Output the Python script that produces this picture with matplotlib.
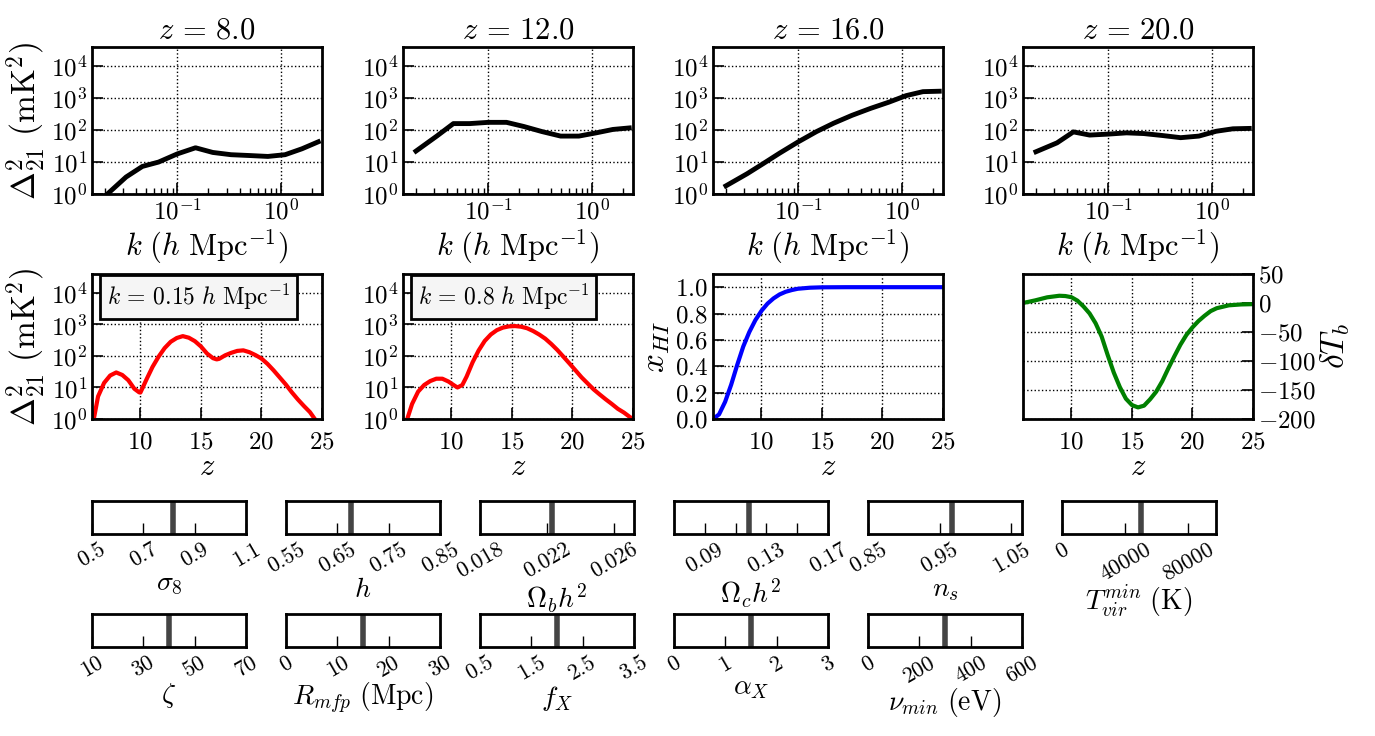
import matplotlib
matplotlib.use("Agg")
import matplotlib.pyplot as plt

plt.rcParams["font.family"] = "serif"
plt.rcParams["font.serif"] = ["cmr10"]
plt.rcParams["mathtext.fontset"] = "cm"
plt.rcParams["axes.formatter.use_mathtext"] = True
plt.rcParams["axes.unicode_minus"] = True

# ---------------- datos ----------------
redshifts = [8.0, 12.0, 16.0, 20.0]
k_bins = [0.02, 0.032, 0.046, 0.066, 0.10, 0.15, 0.22, 0.33, 0.50, 0.75, 1.1, 1.6, 2.3]
ps_z8 = [0.85, 3.4, 7.3, 10, 18, 28, 20, 17, 16, 15, 17, 26, 43]
ps_z12 = [22, 66, 160, 160, 175, 175, 130, 90, 65, 65, 82, 105, 117]
ps_z16 = [1.8, 4.3, 9, 19, 43, 90, 165, 290, 480, 750, 1200, 1600, 1650]
ps_z20 = [21, 40, 88, 70, 75, 82, 78, 68, 58, 65, 92, 110, 113]
ps_top = [ps_z8, ps_z12, ps_z16, ps_z20]

z_k015 = [6.15, 6.5, 7.0, 7.5, 8.0, 8.5, 9.0, 9.5, 9.9, 10.0, 10.5, 11.0, 11.5, 12.0,
          12.5, 13.0, 13.5, 14.0, 14.5, 15.0, 15.5, 16.0, 16.3, 16.5, 17.0, 17.5, 18.0,
          18.5, 19.0, 19.5, 20.0, 20.5, 21.0, 21.5, 22.0, 22.5, 23.0, 23.5, 24.0, 24.5]
ps_k015 = [1.0, 5.2, 14, 24, 30, 25, 17, 9.1, 7.0, 6.9, 18, 45, 95, 178,
           282, 372, 427, 380, 295, 200, 120, 85, 78, 81, 105, 126, 145,
           151, 132, 107, 83, 56, 35, 21, 12.6, 7.1, 4.2, 2.6, 1.66, 0.89]

z_k08 = [6.35, 6.75, 7.25, 7.75, 8.25, 8.75, 9.25, 9.75, 10.25, 10.5, 10.9, 11.25, 11.75,
         12.25, 12.75, 13.25, 13.75, 14.25, 14.75, 15.25, 15.75, 16.25, 16.75, 17.25,
         17.75, 18.25, 18.75, 19.25, 19.75, 20.25, 20.75, 21.25, 21.75, 22.25, 22.75,
         23.25, 23.75, 24.25, 24.75, 25.0]
ps_k08 = [1.0, 3.0, 7.4, 12, 16, 19, 19, 15.5, 11.5, 10, 12, 22, 63,
          150, 300, 480, 660, 795, 870, 890, 850, 760, 620, 480,
          355, 240, 155, 95, 58, 35, 21, 13.5, 8.7, 6.0, 4.2,
          3.0, 2.1, 1.6, 1.15, 1.0]

z_xhi = [6.0, 6.5, 7.0, 7.5, 8.0, 8.5, 9.0, 9.5, 10.0, 10.5, 11.0, 11.5, 12.0, 12.5,
         13.0, 14.0, 15.0, 17.0, 20.0, 25.0]
xhi = [0.0, 0.035, 0.13, 0.26, 0.41, 0.55, 0.66, 0.75, 0.82, 0.875, 0.915, 0.945,
       0.965, 0.978, 0.988, 0.996, 0.999, 1.0, 1.0, 1.0]

z_tb = [6, 7, 8, 9, 9.5, 10, 10.5, 11, 11.5, 12, 12.5, 13, 13.5, 14, 14.5, 15, 15.5,
        16, 16.5, 17, 17.5, 18, 18.5, 19, 19.5, 20, 20.5, 21, 21.5, 22, 23, 24, 25]
dtb = [0, 4.5, 9.8, 12.5, 12, 10, 4, -6, -18, -35, -58, -90, -120, -145, -165, -176,
       -180, -177, -166, -153, -135, -113, -92, -72, -55, -42, -31, -22, -14, -9, -4, -2.5, -2]

slider_labels = [r"$\sigma_8$", r"$h$", r"$\Omega_b h^2$", r"$\Omega_c h^2$", r"$n_s$",
                 r"$T_{vir}^{min}\ (\mathrm{K})$", r"$\zeta$", r"$R_{mfp}\ (\mathrm{Mpc})$",
                 r"$f_X$", r"$\alpha_X$", r"$\nu_{min}\ (\mathrm{eV})$"]
slider_ranges = [(0.5, 1.1), (0.55, 0.85), (0.018, 0.0272), (0.07, 0.17), (0.85, 1.065),
                 (0, 97500), (10, 70), (0, 30), (0.5, 3.5), (0, 3), (0, 600)]
slider_values = [0.8159, 0.6774, 0.0223, 0.1188, 0.9667, 50000, 40, 15, 2.0, 1.5, 300]
slider_ticks = [[0.5, 0.7, 0.9, 1.1], [0.55, 0.65, 0.75, 0.85], [0.018, 0.022, 0.026],
                [0.09, 0.13, 0.17], [0.85, 0.95, 1.05], [0, 40000, 80000],
                [10, 30, 50, 70], [0, 10, 20, 30], [0.5, 1.5, 2.5, 3.5], [0, 1, 2, 3],
                [0, 200, 400, 600]]
slider_ticklabels = [["0.5", "0.7", "0.9", "1.1"], ["0.55", "0.65", "0.75", "0.85"],
                     ["0.018", "0.022", "0.026"], ["0.09", "0.13", "0.17"],
                     ["0.85", "0.95", "1.05"], ["0", "40000", "80000"],
                     ["10", "30", "50", "70"], ["0", "10", "20", "30"],
                     ["0.5", "1.5", "2.5", "3.5"], ["0", "1", "2", "3"],
                     ["0", "200", "400", "600"]]
slider_minor = [[], [], [], [0.11, 0.15], [], [], [], [], [], [], []]

# ---------------- figura ----------------
W, H = 1375, 736
fig = plt.figure(figsize=(W / 100, H / 100), dpi=100)


def px_axes(left, top, width, height):
    return fig.add_axes([left / W, 1 - (top + height) / H, width / W, height / H])


def style(ax, labelsize=18):
    for s in ax.spines.values():
        s.set_linewidth(2)
    ax.tick_params(which="both", direction="in", labelsize=labelsize, top=False, right=False)
    ax.tick_params(which="major", length=8, width=1.2)
    ax.tick_params(which="minor", length=4, width=1)
    ax.grid(True, which="major", ls=":", color="k", lw=1)


col_left = [92, 403, 713, 1023]
ylab = r"$\Delta_{21}^2\ (\mathrm{mK}^2)$"

# fila superior: espectros de potencia
for i in range(4):
    ax = px_axes(col_left[i], 47, 230, 147)
    ax.loglog(k_bins, ps_top[i], "k-", lw=3.5)
    ax.set_xlim(0.015, 2.5)
    ax.set_ylim(1, 4e4)
    ax.set_yticks([1, 10, 100, 1e3, 1e4])
    style(ax)
    ax.set_title(r"$z\,=\,%.1f$" % redshifts[i], fontsize=22)
    ax.set_xlabel(r"$k\ (h\ \mathrm{Mpc}^{-1})$", fontsize=22, labelpad=2)
    if i == 0:
        ax.set_ylabel(ylab, fontsize=24, labelpad=2)

# fila central
for i, (zz, pp, lab) in enumerate([(z_k015, ps_k015, r"$k\,=\,0.15\ h\ \mathrm{Mpc}^{-1}$"),
                                   (z_k08, ps_k08, r"$k\,=\,0.8\ h\ \mathrm{Mpc}^{-1}$")]):
    ax = px_axes(col_left[i], 274, 230, 145)
    ax.semilogy(zz, pp, "r-", lw=3)
    ax.set_xlim(6, 25)
    ax.set_ylim(1, 4e4)
    ax.set_yticks([1, 10, 100, 1e3, 1e4])
    ax.set_xticks([10, 15, 20, 25])
    style(ax)
    ax.tick_params(axis="x", pad=9)
    ax.set_xlabel(r"$z$", fontsize=22, labelpad=0)
    if i == 0:
        ax.set_ylabel(ylab, fontsize=24, labelpad=2)
    ax.text(0.065, 0.945, lab, transform=ax.transAxes, fontsize=17, va="top", ha="left",
            bbox=dict(boxstyle="square,pad=0.3", fc="#f5f5f5", ec="k", lw=2))

ax = px_axes(col_left[2], 274, 230, 145)
ax.plot(z_xhi, xhi, "b-", lw=3)
ax.set_xlim(6, 25)
ax.set_ylim(0, 1.1)
ax.set_xticks([10, 15, 20, 25])
ax.set_yticks([0.0, 0.2, 0.4, 0.6, 0.8, 1.0])
style(ax)
ax.tick_params(axis="x", pad=9)
ax.set_xlabel(r"$z$", fontsize=22, labelpad=0)
ax.set_ylabel(r"$x_{HI}$", fontsize=24, labelpad=2)

ax = px_axes(col_left[3], 274, 230, 145)
ax.plot(z_tb, dtb, color="green", lw=3)
ax.set_xlim(6, 25)
ax.set_ylim(-200, 50)
ax.set_xticks([10, 15, 20, 25])
ax.set_yticks([-200, -150, -100, -50, 0, 50])
style(ax)
ax.tick_params(axis="x", pad=9)
ax.yaxis.tick_right()
ax.yaxis.set_label_position("right")
ax.tick_params(axis="y", which="both", left=False, right=True)
ax.set_xlabel(r"$z$", fontsize=22, labelpad=0)
ax.set_ylabel(r"$\delta T_b$", fontsize=24, labelpad=2)

# deslizadores de parámetros
for i in range(len(slider_labels)):
    row, col = divmod(i, 6)
    sax = px_axes(92 + 194 * col, 501 + 113 * row, 154, 33)
    for s in sax.spines.values():
        s.set_linewidth(2)
    sax.set_xlim(*slider_ranges[i])
    sax.set_ylim(0, 1)
    sax.set_yticks([])
    sax.axvline(slider_values[i], color="#444444", lw=4)
    sax.set_xticks(slider_ticks[i])
    sax.set_xticklabels(slider_ticklabels[i], rotation=30, fontsize=16)
    if slider_minor[i]:
        sax.set_xticks(slider_minor[i], minor=True)
    sax.tick_params(axis="x", which="both", direction="in", length=8, width=1, pad=4)
    sax.set_xlabel(slider_labels[i], fontsize=20, labelpad=0)

fig.savefig("out.png", dpi=100)
